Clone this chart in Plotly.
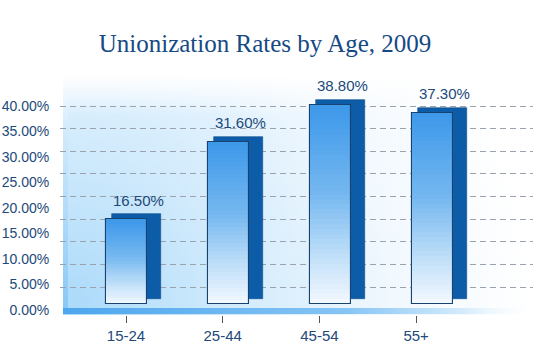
import base64
import plotly.graph_objects as go

# ---- data ----
categories = ["15-24", "25-44", "45-54", "55+"]
rates = [16.5, 31.6, 38.8, 37.3]
value_labels = ["16.50%", "31.60%", "38.80%", "37.30%"]
tick_values = [0, 5, 10, 15, 20, 25, 30, 35, 40]
tick_labels = ["%.2f%%" % v for v in tick_values]
title_text = "Unionization Rates by Age, 2009"

W, H = 550, 353
ML, MR, MT, MB = 60, 17, 80, 38
PW, PH = W - ML - MR, H - MT - MB

TEXT = "#22497a"
FONT = "Liberation Sans, Arial, sans-serif"
FS = 15
FS_TICK = 14

# background decoration (glow, wall, floor) as an SVG image
svg = f"""<svg xmlns='http://www.w3.org/2000/svg' width='{W}' height='{H}' viewBox='0 0 {W} {H}'>
<defs>
<radialGradient id='g' gradientUnits='userSpaceOnUse' cx='63' cy='315' r='470'>
<stop offset='0' stop-color='#a9d9fa'/>
<stop offset='0.35' stop-color='#d0eafc'/>
<stop offset='0.7' stop-color='#f1f8fe'/>
<stop offset='1' stop-color='#ffffff'/>
</radialGradient>
<linearGradient id='wall' x1='0' y1='1' x2='0' y2='0'>
<stop offset='0' stop-color='#86c8f5'/>
<stop offset='0.8' stop-color='#d6ecfc'/>
<stop offset='1' stop-color='#ffffff'/>
</linearGradient>
<linearGradient id='floor' x1='0' y1='0' x2='1' y2='0'>
<stop offset='0' stop-color='#4ea6ee'/>
<stop offset='0.6' stop-color='#86c4f4'/>
<stop offset='0.85' stop-color='#d4ebfc'/>
<stop offset='1' stop-color='#ffffff' stop-opacity='0'/>
</linearGradient>
<linearGradient id='top' x1='0' y1='0' x2='0' y2='1'>
<stop offset='0' stop-color='#ffffff'/>
<stop offset='1' stop-color='#ffffff' stop-opacity='0'/>
</linearGradient>
</defs>
<rect width='{W}' height='{H}' fill='#ffffff'/>
<rect x='63' y='75' width='475' height='240' fill='url(#g)'/>
<rect x='63' y='75' width='475' height='40' fill='url(#top)'/>
<rect x='63' y='75' width='5' height='239' fill='url(#wall)'/>
<rect x='63' y='308' width='470' height='6' fill='url(#floor)'/>
</svg>"""
svg_uri = "data:image/svg+xml;base64," + base64.b64encode(svg.encode()).decode()

# axis scales (pixel placement of the 3D-looking chart)
def rng(p0, s):
    return [(p0 - (MT + PH)) / s, (p0 - MT) / s]

bar_px = 5.13
y_bar = rng(304, bar_px)
y_lab = rng(310, 5.11)
y_grid = rng(287, 4.525)

bar_sp = 102.0
x_bar = [(ML - 126) / bar_sp, (ML + PW - 126) / bar_sp]
lab_sp = 96.7
x_lab = [(ML - 126) / lab_sp, (ML + PW - 126) / lab_sp]

xpos = list(range(len(categories)))
front_w = 41 / bar_sp
front_off = -front_w / 2

fig = go.Figure()

fig.add_trace(go.Scatter(x=[None], y=[None], xaxis="x", yaxis="y",
                         showlegend=False, hoverinfo="skip"))

# dark side/top face
side_base = 5 / bar_px
fig.add_trace(go.Bar(
    x=xpos, y=rates, base=[side_base] * len(rates),
    offset=front_off + 6 / bar_sp, width=front_w + 8 / bar_sp,
    marker=dict(color="#0c5ca8", line=dict(width=0.6, color="#0a4a8a")),
    xaxis="x", yaxis="y2", showlegend=False, hoverinfo="skip"))

# gradient front face built from overlapping slices (bottom to top)
stops = [(0.0, (244, 249, 255)), (0.22, (196, 225, 249)),
         (0.55, (118, 184, 240)), (1.0, (60, 152, 233))]

def grad(t):
    for (t0, c0), (t1, c1) in zip(stops[:-1], stops[1:]):
        if t <= t1:
            f = (t - t0) / (t1 - t0)
            return "rgb(%d,%d,%d)" % tuple(round(a + (b - a) * f) for a, b in zip(c0, c1))
    return "rgb(%d,%d,%d)" % stops[-1][1]

N = 40
for k in range(N):
    col = grad((k + 0.5) / N)
    fig.add_trace(go.Bar(
        x=xpos, y=[r * (N - k) / N for r in rates], base=[r * k / N for r in rates],
        offset=front_off, width=front_w,
        marker=dict(color=col, line=dict(width=0)),
        xaxis="x", yaxis="y2", showlegend=False, hoverinfo="skip"))

# outline of the front face
fig.add_trace(go.Bar(
    x=xpos, y=rates, offset=front_off, width=front_w,
    marker=dict(color="rgba(0,0,0,0)", line=dict(width=1.1, color="#18426f")),
    xaxis="x", yaxis="y2", showlegend=False, hoverinfo="skip"))

fig.add_trace(go.Scatter(x=categories, y=[None] * len(categories), xaxis="x2", yaxis="y3",
                         mode="markers", showlegend=False, hoverinfo="skip"))

# value labels
for i, (r, t) in enumerate(zip(rates, value_labels)):
    fig.add_annotation(x=xpos[i], y=r, xref="x", yref="y2", text=t, showarrow=False,
                       xshift=12, yshift=19, yanchor="middle",
                       font=dict(family=FONT, size=FS, color=TEXT))

fig.update_layout(
    width=W, height=H,
    margin=dict(l=ML, r=MR, t=MT, b=MB, autoexpand=False),
    paper_bgcolor="white", plot_bgcolor="rgba(0,0,0,0)",
    barmode="overlay", bargap=0,
    showlegend=False,
    title=dict(text=title_text, x=265 / W, xref="container", xanchor="center",
               y=1 - 43 / H, yref="container", yanchor="middle",
               font=dict(family="Liberation Serif, Times New Roman, serif", size=25,
                         color="#164a84")),
    images=[dict(source=svg_uri, xref="paper", yref="paper",
                 x=-ML / PW, y=1 + MT / PH, sizex=W / PW, sizey=H / PH,
                 xanchor="left", yanchor="top", sizing="stretch", layer="below")],
    xaxis=dict(range=x_bar, visible=False, fixedrange=True),
    yaxis=dict(range=y_grid, showgrid=True, gridcolor="#9aa3ad", gridwidth=1,
               griddash="6px,4px", tickvals=tick_values, showticklabels=False,
               zeroline=False, showline=False, ticks="", automargin=False),
    yaxis2=dict(range=y_bar, overlaying="y", visible=False),
    yaxis3=dict(range=y_lab, overlaying="y", side="left", showgrid=False, zeroline=False,
                tickvals=tick_values, ticktext=tick_labels, ticks="outside",
                ticklen=7, tickcolor="rgba(0,0,0,0)", automargin=False,
                tickfont=dict(family=FONT, size=FS_TICK, color=TEXT)),
    xaxis2=dict(range=x_lab, overlaying="x", side="bottom", showgrid=False, zeroline=False,
                tickvals=categories, ticktext=categories, type="category",
                ticks="outside", ticklen=7, tickcolor="#555555", tickwidth=1,
                automargin=False,
                tickfont=dict(family=FONT, size=FS, color=TEXT)),
)

fig.write_html("out.html")
